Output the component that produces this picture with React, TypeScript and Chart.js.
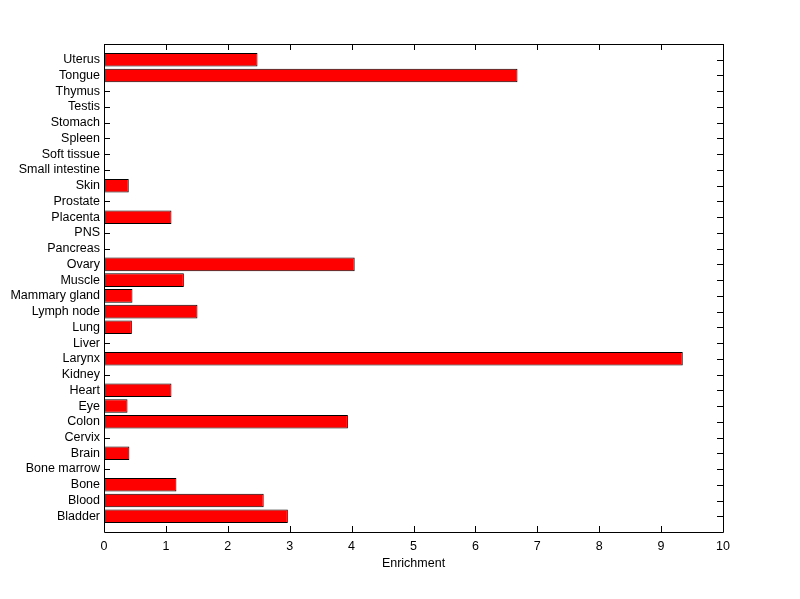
import React, { useEffect, useRef } from "react";
import { Chart, registerables } from "chart.js";

Chart.register(...registerables);

const categories = [
  "Bladder", "Blood", "Bone", "Bone marrow", "Brain", "Cervix", "Colon", "Eye",
  "Heart", "Kidney", "Larynx", "Liver", "Lung", "Lymph node", "Mammary gland",
  "Muscle", "Ovary", "Pancreas", "PNS", "Placenta", "Prostate", "Skin",
  "Small intestine", "Soft tissue", "Spleen", "Stomach", "Testis", "Thymus",
  "Tongue", "Uterus",
];

const enrichment = [
  2.97, 2.58, 1.17, 0, 0.41, 0, 3.94, 0.38,
  1.09, 0, 9.35, 0, 0.45, 1.51, 0.46,
  1.29, 4.05, 0, 0, 1.09, 0, 0.40,
  0, 0, 0, 0, 0, 0,
  6.68, 2.48,
];

const xTicks = [0, 1, 2, 3, 4, 5, 6, 7, 8, 9, 10];

const FONT = { family: "'Liberation Sans', Arial, sans-serif", size: 12.5 };

const boxTicksPlugin = {
  id: "boxTicks",
  beforeDatasetsDraw(chart: any) {
    const { ctx, chartArea } = chart;
    const { left, right, top, bottom } = chartArea;
    const xs = chart.scales.x;
    const ys = chart.scales.y;
    const tl = 6;
    ctx.save();
    ctx.strokeStyle = "#000";
    ctx.lineWidth = 1;
    ctx.beginPath();
    xTicks.forEach((v) => {
      const px = Math.round(xs.getPixelForValue(v)) + 0.5;
      ctx.moveTo(px, bottom);
      ctx.lineTo(px, bottom - tl);
      ctx.moveTo(px, top);
      ctx.lineTo(px, top + tl);
    });
    categories.forEach((_, i) => {
      const py = Math.round(ys.getPixelForValue(i + 1)) + 0.5;
      ctx.moveTo(left, py);
      ctx.lineTo(left + tl, py);
      ctx.moveTo(right, py);
      ctx.lineTo(right - tl, py);
    });
    ctx.stroke();
    ctx.restore();
  },
  afterDraw(chart: any) {
    const { ctx, chartArea } = chart;
    const { left, right, top, bottom } = chartArea;
    ctx.save();
    ctx.strokeStyle = "#000";
    ctx.lineWidth = 1;
    ctx.beginPath();
    ctx.rect(Math.round(left) + 0.5, Math.round(top) + 0.5, Math.round(right - left), Math.round(bottom - top));
    ctx.stroke();
    ctx.restore();
  },
};

export default function App() {
  const ref = useRef<HTMLCanvasElement | null>(null);

  useEffect(() => {
    if (!ref.current) return;
    const chart = new Chart(ref.current, {
      type: "bar",
      data: {
        datasets: [
          {
            data: enrichment.map((v, i) => ({ x: v, y: i + 1 })),
            backgroundColor: "#FF0000",
            borderColor: "#000000",
            borderWidth: 1,
            borderSkipped: false,
            barPercentage: 0.86,
            categoryPercentage: 1,
          },
        ],
      },
      options: {
        indexAxis: "y",
        animation: false,
        responsive: false,
        maintainAspectRatio: false,
        layout: { padding: { top: 44, right: 77, left: 0, bottom: 0 } },
        plugins: {
          legend: { display: false },
          tooltip: { enabled: false },
          title: { display: false },
        },
        scales: {
          x: {
            type: "linear",
            min: 0,
            max: 10,
            grid: { display: false, drawTicks: false },
            border: { display: false },
            afterBuildTicks: (s: any) => {
              s.ticks = xTicks.map((v) => ({ value: v }));
            },
            afterFit: (s: any) => {
              s.height = 67;
            },
            ticks: {
              color: "#000",
              font: FONT,
              padding: 7,
              maxRotation: 0,
              autoSkip: false,
            },
            title: {
              display: true,
              text: "Enrichment",
              color: "#000",
              font: FONT,
              padding: { top: 2, bottom: 28 },
            },
          },
          y: {
            type: "linear",
            offset: false,
            min: 0,
            max: categories.length + 1,
            grid: { display: false, drawTicks: false, offset: false },
            border: { display: false },
            afterBuildTicks: (s: any) => {
              s.ticks = categories.map((_, i) => ({ value: i + 1 }));
            },
            afterFit: (s: any) => {
              s.width = 104;
            },
            ticks: {
              color: "#000",
              font: FONT,
              padding: 4,
              autoSkip: false,
              callback: (v: any) => categories[Number(v) - 1] ?? "",
            },
          },
        },
      },
      plugins: [boxTicksPlugin],
    } as any);
    return () => chart.destroy();
  }, []);

  return (
    <div style={{ position: "fixed", left: 0, top: 0, width: 800, height: 599, background: "#fff" }}>
      <canvas ref={ref} width={800} height={599} style={{ display: "block", width: 800, height: 599 }} />
    </div>
  );
}
